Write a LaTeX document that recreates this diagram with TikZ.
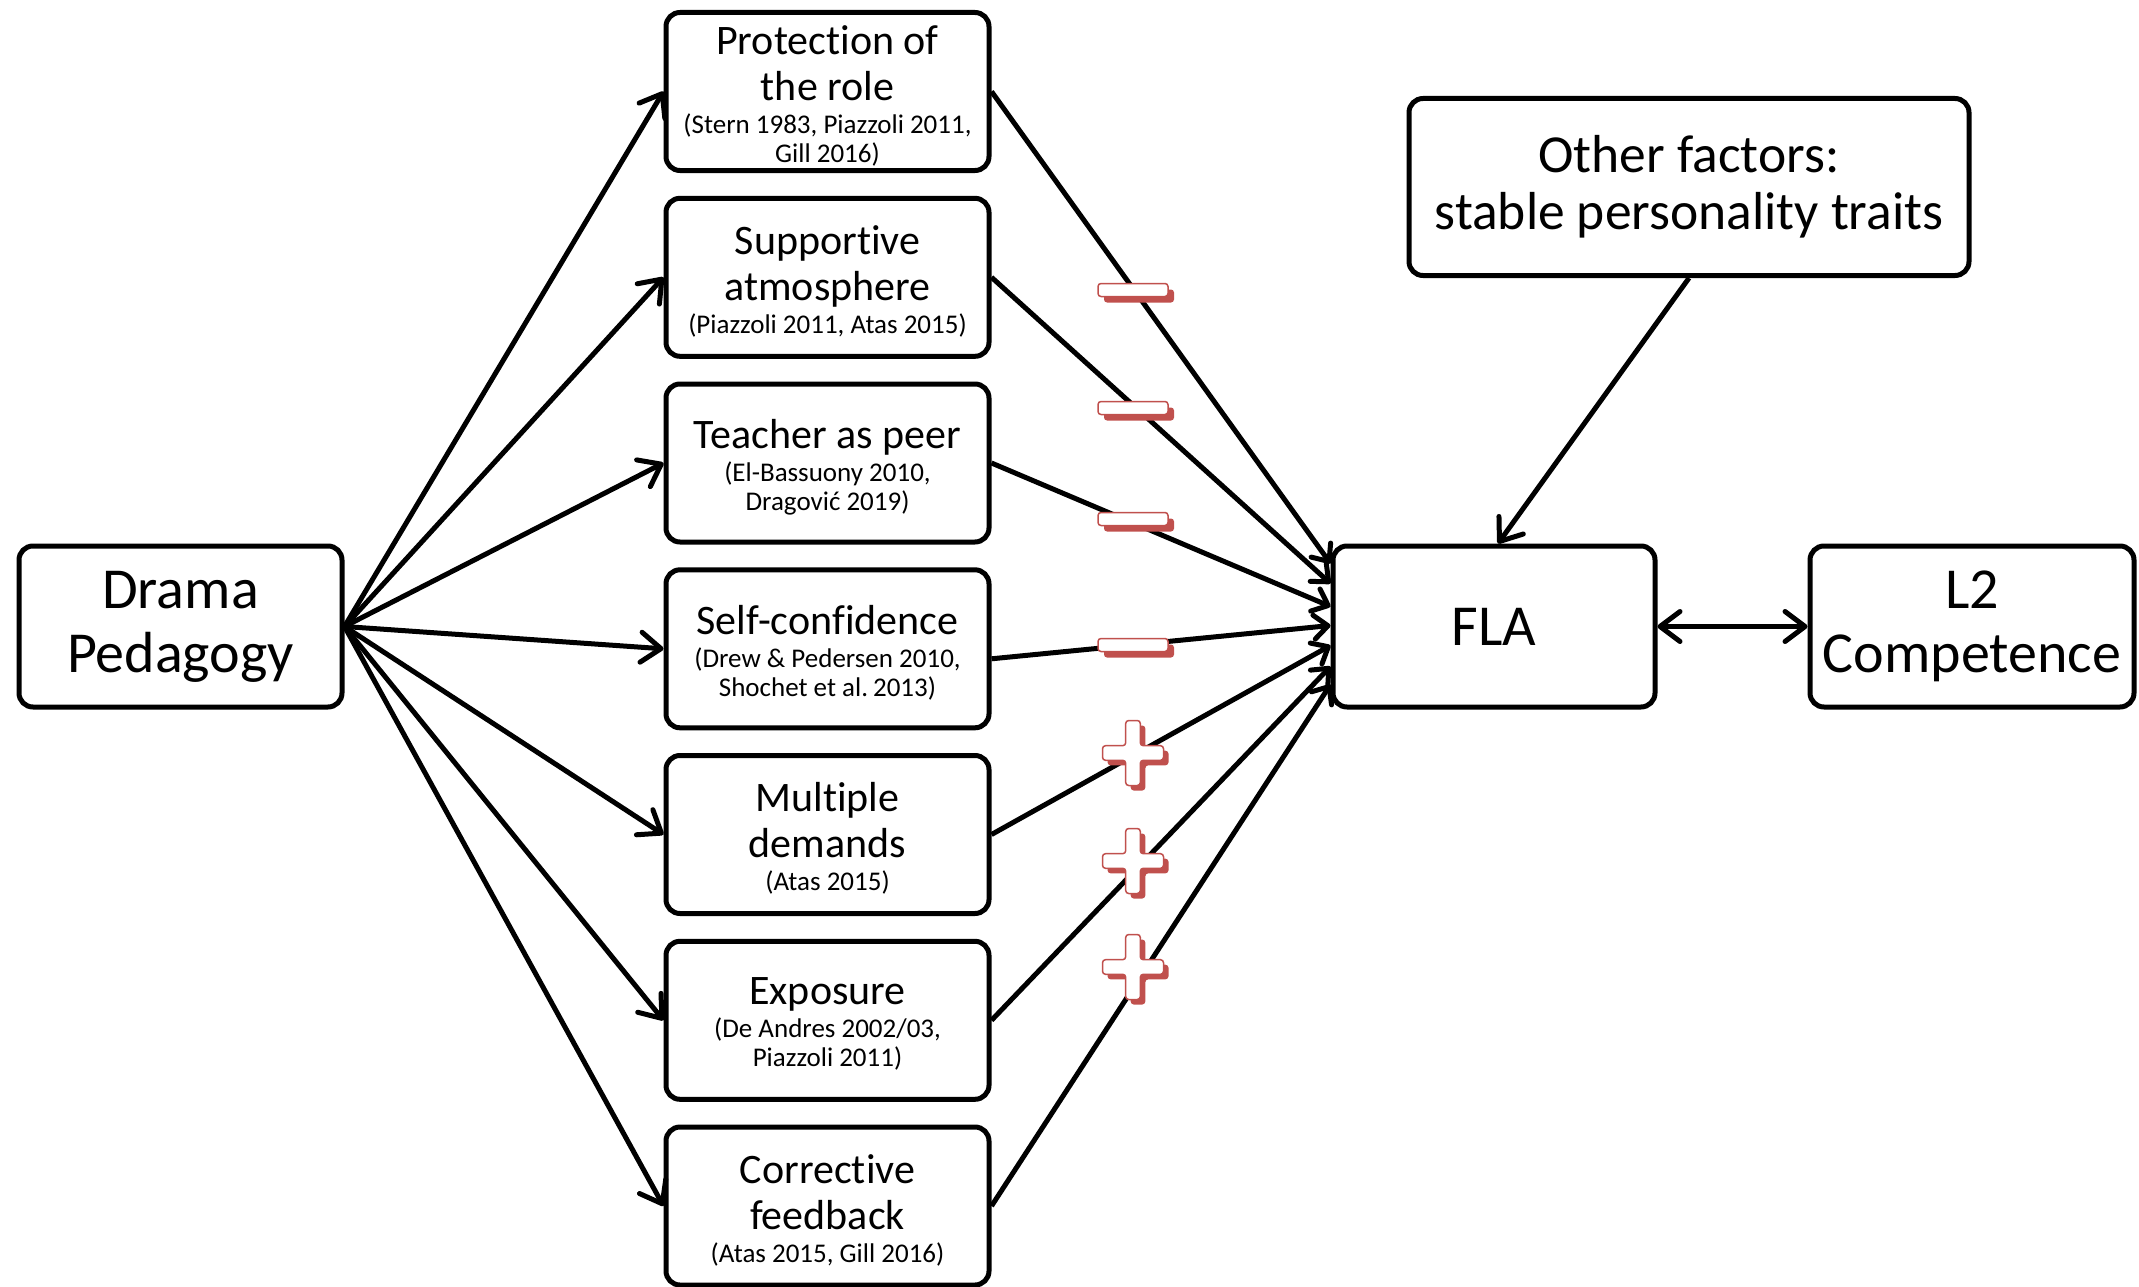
\documentclass[tikz,border=0pt]{standalone}
\usepackage{fontspec}
\setmainfont{Carlito}[Ligatures=NoCommon]
\usetikzlibrary{arrows.meta,calc}
\definecolor{signred}{RGB}{192,80,77}
% text sizes; interword glue fixed to the font's natural space
\newcommand\txtbig{\fontsize{42}{46}\selectfont\spaceskip=\fontdimen2\font\relax}
\newcommand\txtsmall{\fontsize{27}{29}\selectfont\spaceskip=\fontdimen2\font\relax}
\newcommand\txthuge{\fontsize{58}{64}\selectfont}
\newcommand\txtother{\fontsize{53.5}{57}\selectfont}
% factor label: title, then references, in a fixed-height block nudged down a little
\newcommand\factortext[2]{\vbox to 150pt{\vss\kern8pt{\txtbig #1\par}\vskip4pt{\txtsmall #2\par}\vss}}

\begin{document}
\begin{tikzpicture}[x=1pt,y=-1pt,
  box/.style={draw, line width=5pt, rounded corners=14pt, fill=white, align=center, inner sep=0pt},
  factor/.style={box, text width=321pt, inner sep=1pt, minimum height=158pt},
  mainbox/.style={box, minimum width=323pt, minimum height=161pt, font=\txthuge},
  conn/.style={line width=5pt, -{Straight Barb[length=20pt,width=30pt,round]}},
  tofla/.style={line width=5pt, -{Straight Barb[length=14pt,width=24pt,round]}},
  minussign/.pic={
    \fill[signred, rounded corners=3pt] (-29,-0.5) rectangle (41,12.5);
    \draw[signred, fill=white, line width=1.5pt, rounded corners=3pt] (-35,-6.5) rectangle (35,6.5);
  },
  plussign/.pic={
    \begin{scope}[shift={(5,5)}]
      \fill[signred, rounded corners=3pt]
        (-7.3,-32.5) -- (7.3,-32.5) -- (7.3,-7.3) -- (30.5,-7.3) -- (30.5,7.3) -- (7.3,7.3)
        -- (7.3,32.5) -- (-7.3,32.5) -- (-7.3,7.3) -- (-30.5,7.3) -- (-30.5,-7.3) -- (-7.3,-7.3) -- cycle;
    \end{scope}
    \draw[signred, fill=white, line width=1.5pt, rounded corners=3pt]
      (-7.3,-32.5) -- (7.3,-32.5) -- (7.3,-7.3) -- (30.5,-7.3) -- (30.5,7.3) -- (7.3,7.3)
      -- (7.3,32.5) -- (-7.3,32.5) -- (-7.3,7.3) -- (-30.5,7.3) -- (-30.5,-7.3) -- (-7.3,-7.3) -- cycle;
  },
]
\useasboundingbox (0,0) rectangle (2139,1287);

% main boxes
\node[mainbox] (drama) at (180.5,626.5) {Drama\\Pedagogy};
\node[mainbox, minimum width=322pt] (fla) at (1494,626.5) {FLA};
\node[mainbox, minimum width=324pt] (l2) at (1972,626.5) {L2\\Competence};
\node[box, minimum width=560pt, minimum height=177pt, font=\txtother] (other) at (1689,187)
  {Other factors:\\stable personality traits};

% mediating factors
\node[factor] (f1) at (827.5,91.5)
  {\factortext{Protection of\\the role}{(Stern 1983, Piazzoli 2011,\\Gill 2016)}};
\node[factor] (f2) at (827.5,277.3)
  {\factortext{Supportive\\atmosphere}{(Piazzoli 2011, Atas 2015)}};
\node[factor] (f3) at (827.5,463)
  {\factortext{Teacher as peer}{(El-Bassuony 2010,\\Dragović 2019)}};
\node[factor] (f4) at (827.5,648.8)
  {\factortext{Self-confidence}{(Drew \& Pedersen 2010,\\Shochet et al. 2013)}};
\node[factor] (f5) at (827.5,834.5)
  {\factortext{Multiple\\demands}{(Atas 2015)}};
\node[factor] (f6) at (827.5,1020.3)
  {\factortext{Exposure}{(De Andres 2002/03,\\Piazzoli 2011)}};
\node[factor] (f7) at (827.5,1206)
  {\factortext{Corrective\\feedback}{(Atas 2015, Gill 2016)}};

% drama pedagogy to each factor
\foreach \i in {1,...,7}
  \draw[conn] (drama.east) -- (f\i.west);

% each factor to FLA
\foreach \i/\dy in {1/-63,2/-43,3/-20,5/19,6/40,7/58}
  \draw[tofla] (f\i.east) -- ($(fla.west)+(0,\dy)$);
\draw[tofla] ($(f4.east)+(0,10)$) -- ($(fla.west)+(0,-1)$);

% other factors and L2 competence
\draw[conn] (other.south) -- ($(fla.north)+(4,0)$);
\draw[line width=5pt, {Straight Barb[length=20pt,width=30pt,round]}-{Straight Barb[length=20pt,width=30pt,round]}]
  (fla.east) -- (l2.west);

% effect signs
\foreach \y in {290,408,519,645}
  \pic at (1133,\y) {minussign};
\foreach \y in {753,861,967}
  \pic at (1133,\y) {plussign};
\end{tikzpicture}
\end{document}
